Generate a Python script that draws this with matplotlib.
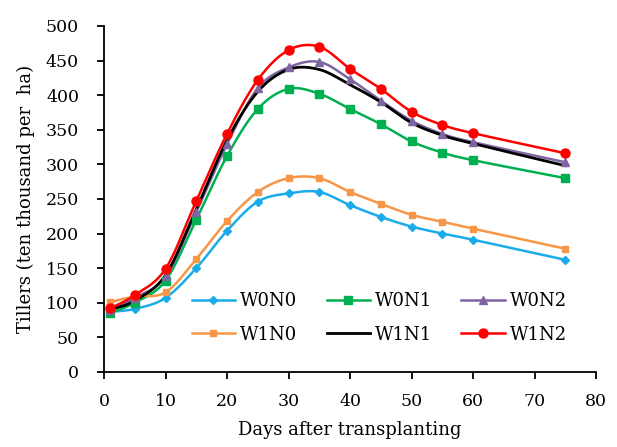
import matplotlib
matplotlib.use("Agg")
import matplotlib.pyplot as plt
import numpy as np

plt.rcParams['font.family'] = ['DejaVu Serif']

days = [1, 5, 10, 15, 20, 25, 30, 35, 40, 45, 50, 55, 60, 75]

w0n0 = [87, 91, 107, 150, 204, 246, 258, 260, 241, 224, 210, 200, 191, 162]
w0n1 = [85, 100, 132, 220, 312, 380, 409, 402, 380, 358, 333, 317, 306, 280]
w0n2 = [90, 107, 138, 231, 329, 410, 440, 448, 423, 392, 363, 344, 332, 303]
w1n0 = [101, 109, 115, 163, 218, 260, 280, 280, 260, 243, 227, 217, 207, 178]
w1n1 = [90, 103, 140, 235, 335, 405, 437, 437, 415, 390, 360, 342, 330, 298]
w1n2 = [92, 111, 149, 247, 344, 422, 465, 470, 438, 409, 376, 357, 345, 316]

labels = ['W0N0', 'W0N1', 'W0N2', 'W1N0', 'W1N1', 'W1N2']
series = [w0n0, w0n1, w0n2, w1n0, w1n1, w1n2]
colors = ['#1AACE8', '#00B050', '#8064A2', '#F79646', '#000000', '#FF0000']
markers = ['D', 's', '^', 's', None, 'o']
msizes = [4, 6, 6, 5, 0, 6.5]


def smooth(x, y, n=30):
    # Excel-like smoothing: cubic Bezier with Catmull-Rom control points
    x = np.asarray(x, float)
    y = np.asarray(y, float)
    px = np.concatenate([[x[0]], x, [x[-1]]])
    py = np.concatenate([[y[0]], y, [y[-1]]])
    xs, ys = [], []
    t = np.linspace(0, 1, n)
    for i in range(1, len(px) - 2):
        p0 = np.array([px[i], py[i]])
        p3 = np.array([px[i + 1], py[i + 1]])
        c1 = p0 + (p3 - np.array([px[i - 1], py[i - 1]])) / 6
        c2 = p3 - (np.array([px[i + 2], py[i + 2]]) - p0) / 6
        b = ((1 - t) ** 3)[:, None] * p0 + (3 * (1 - t) ** 2 * t)[:, None] * c1 \
            + (3 * (1 - t) * t ** 2)[:, None] * c2 + (t ** 3)[:, None] * p3
        xs.append(b[:, 0])
        ys.append(b[:, 1])
    return np.concatenate(xs), np.concatenate(ys)


fig = plt.figure(figsize=(6.17, 4.47), dpi=100)
ax = fig.add_axes([0.1686, 0.168, 0.7974, 0.774])

handles = []
for lab, ys, c, m, ms in zip(labels, series, colors, markers, msizes):
    sx, sy = smooth(days, ys)
    lw = 2.0 if m is None else 1.8
    ax.plot(sx, sy, color=c, lw=lw, zorder=2)
    if m is not None:
        ax.plot(days, ys, ls='none', marker=m, ms=ms, color=c, zorder=3)
    h, = ax.plot([], [], color=c, lw=lw, marker=m, ms=ms, label=lab)
    handles.append(h)

ax.set_xlim(0, 80)
ax.set_ylim(0, 500)
ax.set_xticks(range(0, 81, 10))
ax.set_yticks(range(0, 501, 50))
ax.spines['top'].set_visible(False)
ax.spines['right'].set_visible(False)
ax.spines['left'].set_linewidth(1.3)
ax.spines['bottom'].set_linewidth(1.3)
ax.tick_params(direction='out', length=5, width=1.3, labelsize=12.5)
ax.tick_params(axis='x', pad=10)
ax.tick_params(axis='y', pad=13)
ax.set_xlabel('Days after transplanting', fontsize=13, labelpad=8)
ax.set_ylabel('Tillers (ten thousand per  ha)', fontsize=13, labelpad=8)

# matplotlib fills legend column by column; reorder so rows read W0.., W1..
order = [0, 3, 1, 4, 2, 5]
ax.legend([handles[i] for i in order], [labels[i] for i in order],
          loc='lower left', bbox_to_anchor=(0.145, 0.035), ncol=3,
          frameon=False, fontsize=13, handlelength=2.4, columnspacing=1.6,
          labelspacing=0.85, handletextpad=0.3)

fig.savefig('out.png', dpi=100)
